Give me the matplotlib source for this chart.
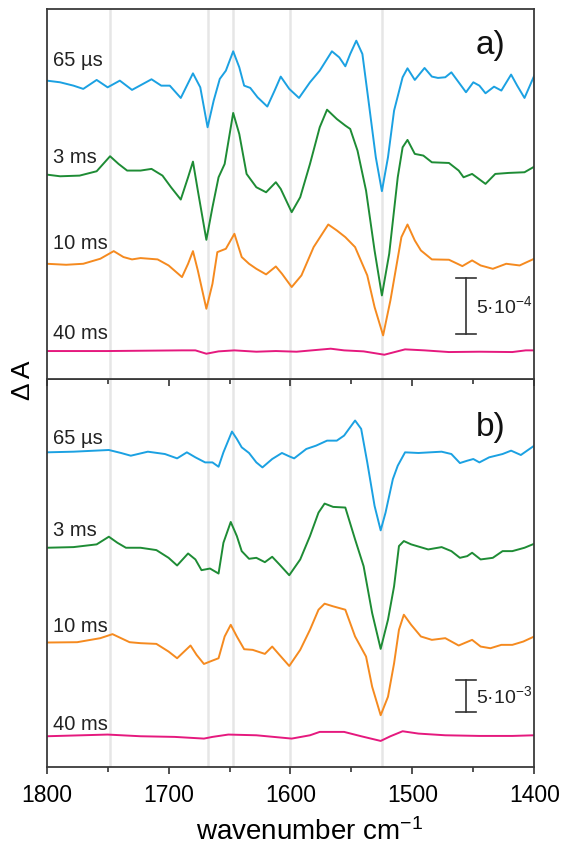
import matplotlib
matplotlib.use("Agg")
import matplotlib.pyplot as plt
import numpy as np

plt.rcParams['font.family'] = ['Liberation Sans', 'DejaVu Sans']
plt.rcParams['mathtext.default'] = 'regular'

# panel a, values in units of 1e-4 (dA), each relative to its own baseline
a_65us_wn = [1800, 1789, 1778, 1770, 1759, 1750, 1740, 1730, 1714, 1706, 1699, 1690, 1680, 1674, 1668, 1663,
             1658, 1653, 1647, 1642, 1638, 1633, 1627, 1619, 1613, 1608, 1601, 1593, 1584, 1576, 1566, 1560,
             1555, 1551, 1546, 1541, 1536, 1530, 1525, 1520, 1515, 1508, 1504, 1498, 1490, 1484, 1479, 1473,
             1468, 1462, 1456, 1450, 1445, 1440, 1433, 1427, 1419, 1414, 1408, 1400]
a_65us = [0, -0.15, -0.45, -0.74, 0.06, -0.6, 0, -0.83, 0.12, -0.45, -0.45, -1.55, 0.65, -0.6, -4.17, -1.79,
          0.15, 0.89, 2.62, 1.19, -0.45, -0.65, -1.49, -2.32, -0.89, 0.36, -0.74, -1.55, -0.15, 0.89, 2.62, 2.08,
          1.28, 2.38, 3.57, 2.38, -1.79, -6.85, -9.88, -6.85, -2.68, 0.30, 1.10, 0.06, 1.13, 0.36, 0.24, 0.30,
          0.74, -0.15, -1.04, -0.15, -0.45, -1.13, -0.54, -0.89, 0.54, -0.45, -1.55, 0.45]

a_3ms_wn = [1800, 1789, 1773, 1759, 1748, 1741, 1734, 1723, 1714, 1705, 1698, 1690, 1684, 1680, 1676, 1669,
            1664, 1659, 1654, 1647, 1642, 1636, 1628, 1620, 1612, 1608, 1599, 1592, 1584, 1576, 1570, 1562,
            1555, 1551, 1545, 1538, 1531, 1525, 1519, 1512, 1508, 1504, 1498, 1491, 1484, 1470, 1462, 1458,
            1451, 1440, 1432, 1421, 1408, 1400]
a_3ms = [0, -0.15, -0.09, 0.30, 1.64, 0.95, 0.36, 0.36, 0.51, -0.09, -1.13, -2.23, -0.24, 1.16, -1.43, -5.83,
         -2.92, -0.24, 0.95, 5.51, 3.63, 0.06, -1.13, -1.58, -0.68, -1.28, -3.36, -2.02, 0.95, 4.23, 5.80, 4.97,
         4.38, 4.08, 2.14, -1.43, -6.79, -10.80, -7.08, -0.24, 2.44, 3.10, 1.85, 1.70, 1.10, 1.04, 0.36, -0.24,
         0.06, -0.83, 0.06, 0.15, 0.21, 0.71]

a_10ms_wn = [1800, 1784, 1770, 1756, 1745, 1737, 1730, 1723, 1709, 1700, 1689, 1684, 1680, 1676, 1669, 1664,
             1660, 1653, 1646, 1640, 1634, 1628, 1620, 1612, 1607, 1599, 1591, 1581, 1569, 1562, 1555, 1547,
             1537, 1531, 1524, 1518, 1509, 1504, 1498, 1493, 1484, 1470, 1463, 1459, 1451, 1444, 1434, 1423,
             1412, 1400]
a_10ms = [0, -0.09, 0, 0.45, 1.13, 0.60, 0.39, 0.51, 0.39, -0.15, -1.19, 0, 1.13, -0.60, -4.02, -1.79,
          1.04, 1.34, 2.68, 0.60, 0, -0.45, -0.95, -0.24, -0.89, -2.08, -1.04, 1.49, 3.51, 2.98, 2.38, 1.49,
          -1.04, -3.87, -6.40, -3.27, 2.38, 3.51, 2.08, 1.19, 0.39, 0.36, 0, -0.21, 0.30, -0.15, -0.45, 0,
          -0.15, 0.45]

a_40ms_wn = [1800, 1750, 1689, 1678, 1669, 1659, 1646, 1628, 1612, 1595, 1567, 1556, 1540, 1523, 1506, 1490,
             1470, 1445, 1418, 1407, 1400]
a_40ms = [0, 0, 0.06, 0.06, -0.24, -0.03, 0.06, -0.06, 0, -0.06, 0.21, 0.06, -0.03, -0.33, 0.15, 0.06,
          -0.09, -0.06, -0.09, 0.06, 0.06]

# panel b, values in units of 1e-3 (dA)
b_65us_wn = [1800, 1778, 1749, 1739, 1731, 1717, 1703, 1693, 1685, 1678, 1670, 1664, 1659, 1655, 1648, 1644,
             1640, 1634, 1628, 1623, 1615, 1607, 1601, 1597, 1587, 1579, 1570, 1562, 1556, 1547, 1542, 1537,
             1531, 1526, 1522, 1516, 1512, 1506, 1495, 1476, 1468, 1461, 1455, 1450, 1445, 1437, 1426, 1419,
             1411, 1400]
b_65us = [0, 0.10, 0.36, -0.10, -0.52, 0.10, -0.26, -0.93, 0, -0.77, -1.55, -1.55, -2.22, 0, 3.20, 2.06,
          0.77, -0.10, -1.55, -2.32, -1.03, -0.10, -0.62, -0.93, 0.52, 1.03, 1.80, 1.80, 2.58, 4.90, 3.61, -1.55,
          -8.25, -12.01, -9.28, -4.12, -2.06, 0, -0.10, 0.10, -0.26, -1.65, -1.29, -1.03, -1.55, -0.77, -0.26, 0.26,
          -0.41, 1.03]

b_3ms_wn = [1800, 1778, 1759, 1749, 1742, 1735, 1723, 1710, 1700, 1693, 1684, 1678, 1673, 1666, 1659, 1655,
            1649, 1644, 1640, 1634, 1628, 1621, 1615, 1609, 1601, 1592, 1584, 1577, 1572, 1565, 1555, 1547,
            1540, 1533, 1526, 1520, 1515, 1511, 1507, 1501, 1487, 1476, 1468, 1461, 1455, 1451, 1444, 1434,
            1426, 1418, 1408, 1400]
b_3ms = [0, 0.10, 0.52, 1.70, 0.77, 0, 0, -0.36, -1.55, -2.73, -0.88, -1.80, -3.45, -3.20, -3.97, 0.77,
         3.97, 1.80, -0.52, -1.70, -1.55, -2.22, -1.39, -2.58, -4.23, -1.80, 1.80, 5.41, 6.80, 6.29, 6.19, 1.29,
         -2.84, -10.05, -15.57, -11.08, -5.93, 0.26, 1.03, 0.52, -0.26, 0.10, -0.52, -1.55, -1.29, -0.77, -1.80, -1.55,
         -0.52, -0.52, 0, 0.62]

b_10ms_wn = [1800, 1775, 1756, 1746, 1739, 1732, 1723, 1710, 1700, 1693, 1682, 1677, 1671, 1664, 1659, 1654,
             1649, 1644, 1638, 1631, 1621, 1615, 1609, 1601, 1592, 1584, 1577, 1572, 1565, 1555, 1547, 1538,
             1533, 1526, 1520, 1515, 1511, 1507, 1501, 1493, 1484, 1473, 1462, 1451, 1444, 1436, 1427, 1418,
             1409, 1400]
b_10ms = [0, 0.05, 0.67, 1.29, 0.67, 0.05, -0.10, -0.21, -1.39, -2.42, -0.46, -1.91, -3.30, -2.78, -2.42, 0.93,
          2.73, 0.93, -1.03, -1.13, -1.75, -0.62, -1.91, -3.61, -1.13, 1.96, 5.05, 5.98, 5.57, 5.05, 0.93, -2.16,
          -6.80, -11.19, -8.35, -3.20, 1.96, 4.28, 2.73, 0.93, 0.41, 0.67, -0.46, 0.41, -0.62, -0.88, -0.36, -0.36,
          0.15, 0.93]

b_40ms_wn = [1800, 1750, 1723, 1695, 1671, 1664, 1651, 1628, 1599, 1584, 1576, 1556, 1542, 1526, 1518, 1508,
             1495, 1473, 1445, 1418, 1400]
b_40ms = [0, 0.26, 0, -0.10, -0.36, -0.10, 0.26, 0.15, -0.36, 0.15, 0.67, 0.67, 0, -0.72, 0, 0.77,
          0.41, 0.15, 0.05, 0.05, 0.15]

labels = ['65 µs', '3 ms', '10 ms', '40 ms']
colors = ['#1ba1e2', '#1e8c35', '#f58a1f', '#e5197e']
marker_lines = [1748, 1668, 1647, 1600, 1525]

fig = plt.figure(figsize=(5.7, 8.5), dpi=100)
ax1 = fig.add_axes([0.0819, 0.5545, 0.8554, 0.4349])
ax2 = fig.add_axes([0.0819, 0.0976, 0.8554, 0.4569])
ax1.set_zorder(3)

panels = [
    (ax1, [(a_65us_wn, a_65us), (a_3ms_wn, a_3ms), (a_10ms_wn, a_10ms), (a_40ms_wn, a_40ms)],
     [24.17, 15.77, 7.80, 0.0], [25.95, 17.3, 9.6, 1.55], (-2.47, 30.57), 'a)', 27.3, (1.55, 6.55), '5·10$^{-4}$'),
    (ax2, [(b_65us_wn, b_65us), (b_3ms_wn, b_3ms), (b_10ms_wn, b_10ms), (b_40ms_wn, b_40ms)],
     [43.71, 29.02, 14.43, 0.0], [45.9, 31.6, 16.9, 1.86], (-4.74, 55.05), 'b)', 47.5, (3.66, 8.66), '5·10$^{-3}$'),
]

for ax, traces, offsets, label_y, ylim, tag, tag_y, bar, bar_txt in panels:
    for wn in marker_lines:
        ax.axvline(wn, color='#e6e6e6', lw=1.8, zorder=0)
    for (wn, val), off, c in zip(traces, offsets, colors):
        ax.plot(wn, np.array(val) + off, color=c, lw=1.4, solid_joinstyle='round')
    for lab, ly in zip(labels, label_y):
        ax.text(1795, ly, lab, fontsize=14.5, color='#222222', ha='left', va='center')
    ax.text(1436, tag_y, tag, fontsize=24, color='#111111', ha='center', va='center')
    # scale bar
    ax.plot([1456, 1456], bar, color='#333333', lw=1.2)
    ax.plot([1464, 1448], [bar[0], bar[0]], color='#333333', lw=1.2)
    ax.plot([1464, 1448], [bar[1], bar[1]], color='#333333', lw=1.2)
    ax.text(1448, (bar[0] + bar[1]) / 2, bar_txt, fontsize=14, ha='left', va='center', color='#222222')

    ax.set_xlim(1800, 1400)
    ax.set_ylim(*ylim)
    ax.set_yticks([])
    ax.set_xticks([1800, 1700, 1600, 1500, 1400])
    ax.set_xticks([1750, 1650, 1550, 1450], minor=True)
    ax.tick_params(axis='x', which='major', direction='out', length=5, width=1.2, color='#333333')
    ax.tick_params(axis='x', which='minor', direction='out', length=3.5, width=1.2, color='#333333')
    for s in ax.spines.values():
        s.set_color('#3a3a3a')
        s.set_linewidth(1.3)

ax1.tick_params(axis='x', labelbottom=False)
ax2.tick_params(axis='x', labelsize=16.5, pad=7.5)
ax2.set_xlabel('wavenumber cm$^{-1}$', fontsize=20, labelpad=8)
ax2.xaxis.label.set_x(0.54)
fig.text(0.040, 0.553, 'Δ A', rotation=90, fontsize=19, ha='center', va='center')

fig.savefig('out.png', dpi=100)
